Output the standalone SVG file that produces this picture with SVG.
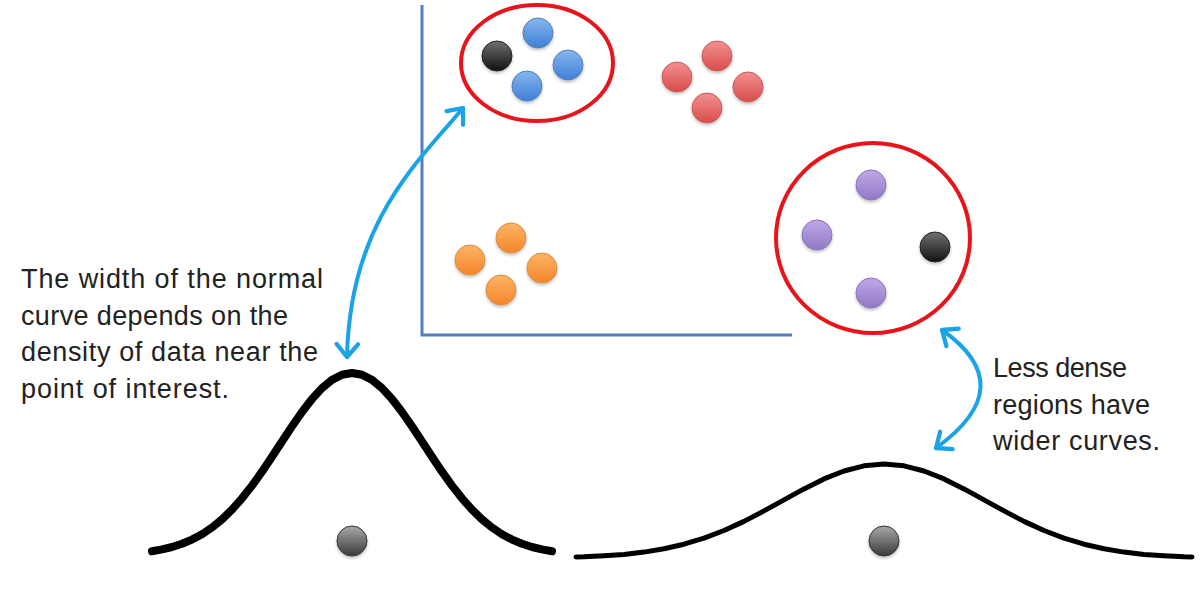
<svg xmlns="http://www.w3.org/2000/svg" width="1201" height="597" viewBox="0 0 1201 597">
<defs>
<linearGradient id="gBlue" x1="0" y1="0" x2="0" y2="1"><stop offset="0" stop-color="#86b6ee"/><stop offset="1" stop-color="#3f7fd6"/></linearGradient>
<linearGradient id="gRed" x1="0" y1="0" x2="0" y2="1"><stop offset="0" stop-color="#f49090"/><stop offset="1" stop-color="#d94c4c"/></linearGradient>
<linearGradient id="gOrange" x1="0" y1="0" x2="0" y2="1"><stop offset="0" stop-color="#ffb466"/><stop offset="1" stop-color="#f2862a"/></linearGradient>
<linearGradient id="gPurple" x1="0" y1="0" x2="0" y2="1"><stop offset="0" stop-color="#bea8e6"/><stop offset="1" stop-color="#9278c6"/></linearGradient>
<linearGradient id="gBlack" x1="0" y1="0" x2="0" y2="1"><stop offset="0" stop-color="#707070"/><stop offset="1" stop-color="#111111"/></linearGradient>
<linearGradient id="gGray" x1="0" y1="0" x2="0" y2="1"><stop offset="0" stop-color="#a8a8a8"/><stop offset="1" stop-color="#3a3a3a"/></linearGradient>
<filter id="sh" x="-30%" y="-30%" width="160%" height="170%"><feDropShadow dx="0" dy="2" stdDeviation="1.5" flood-color="#000" flood-opacity="0.25"/></filter>
<marker id="chev" markerUnits="userSpaceOnUse" markerWidth="30" markerHeight="30" viewBox="-16 -14 20 28" refX="0" refY="0" orient="auto-start-reverse">
<path d="M-12,-10 L0,0 L-12,10" fill="none" stroke="#1aa3e6" stroke-width="4" stroke-linecap="round" stroke-linejoin="round"/>
</marker>
<style>
.dot{stroke-width:1;filter:url(#sh)}
.blue{fill:url(#gBlue);stroke:#4f7fbf}
.red{fill:url(#gRed);stroke:#c85a5a}
.orange{fill:url(#gOrange);stroke:#e08a3a}
.purple{fill:url(#gPurple);stroke:#8a74b8}
.black{fill:url(#gBlack);stroke:#222}
.gray{fill:url(#gGray);stroke:#333}
.ring{fill:none;stroke:#e8141c;stroke-width:4}
.axis{fill:none;stroke:#4f7fc0;stroke-width:3}
.conn{fill:none;stroke:#1aa3e6;stroke-width:4;stroke-linecap:round}
.bell{fill:none;stroke:#000;stroke-linecap:round;stroke-linejoin:round}
.txt{font-family:"Liberation Sans",Arial,sans-serif;font-size:27px;fill:#222}
</style>
</defs>
<rect width="1201" height="597" fill="#fff"/>

<g id="axes">
<polyline class="axis" points="422,5 422,335 792,335"/>
</g>

<g id="cluster-blue">
<ellipse class="ring" cx="537" cy="63" rx="76" ry="58"/>
<circle class="dot black" cx="497" cy="56" r="15"/>
<circle class="dot blue" cx="538" cy="33" r="15"/>
<circle class="dot blue" cx="568" cy="65" r="15"/>
<circle class="dot blue" cx="527" cy="86" r="15"/>
</g>

<g id="cluster-red">
<circle class="dot red" cx="717" cy="56" r="15"/>
<circle class="dot red" cx="677" cy="77" r="15"/>
<circle class="dot red" cx="748" cy="87" r="15"/>
<circle class="dot red" cx="707" cy="108" r="15"/>
</g>

<g id="cluster-orange">
<circle class="dot orange" cx="511" cy="238" r="15"/>
<circle class="dot orange" cx="470" cy="260" r="15"/>
<circle class="dot orange" cx="542" cy="268" r="15"/>
<circle class="dot orange" cx="501" cy="290" r="15"/>
</g>

<g id="cluster-purple">
<ellipse class="ring" cx="873" cy="238" rx="97" ry="95"/>
<circle class="dot purple" cx="871" cy="185" r="15"/>
<circle class="dot purple" cx="817" cy="235" r="15"/>
<circle class="dot purple" cx="871" cy="293" r="15"/>
<circle class="dot black" cx="935" cy="247" r="15"/>
</g>

<g id="bell-narrow">
<polyline class="bell" stroke-width="8" points="152,551.2 162,549.4 172,547 182,543.8 192,539.6 202,534.2 212,527.5 222,519.3 232,509.6 242,498.3 252,485.6 262,471.7 272,456.8 282,441.5 292,426.4 302,412 312,399 322,388.1 332,379.9 342,374.8 352,373 362,374.8 372,379.9 382,388.1 392,399 402,412 412,426.4 422,441.5 432,456.8 442,471.7 452,485.6 462,498.3 472,509.6 482,519.3 492,527.5 502,534.2 512,539.6 522,543.8 532,547 542,549.4 552,551.2"/>
<circle class="dot gray" cx="352" cy="541" r="15"/>
</g>

<g id="bell-wide">
<polyline class="bell" stroke-width="5" points="576,557 584,556.8 604,555.8 624,554.4 644,552.1 664,548.8 684,544.2 704,538.2 724,530.5 744,521.4 764,510.9 784,499.9 804,488.9 824,478.9 844,471 864,465.8 884,464 904,465.8 924,471 944,478.9 964,488.9 984,499.9 1004,510.9 1024,521.4 1044,530.5 1064,538.2 1084,544.2 1104,548.8 1124,552.1 1144,554.4 1164,555.8 1184,556.8 1192,557"/>
<circle class="dot gray" cx="884" cy="541" r="15"/>
</g>

<g id="label-left">
<text class="txt" x="21" y="288" textLength="302" lengthAdjust="spacing">The width of the normal</text>
<text class="txt" x="21" y="324.5" textLength="267" lengthAdjust="spacing">curve depends on the</text>
<text class="txt" x="21" y="361" textLength="297" lengthAdjust="spacing">density of data near the</text>
<text class="txt" x="21" y="397.5" textLength="208" lengthAdjust="spacing">point of interest.</text>
</g>

<g id="label-right">
<text class="txt" x="993" y="377" textLength="134" lengthAdjust="spacing">Less dense</text>
<text class="txt" x="993" y="413.5" textLength="157" lengthAdjust="spacing">regions have</text>
<text class="txt" x="993" y="450" textLength="167" lengthAdjust="spacing">wider curves.</text>
</g>

<g id="connectors">
<path class="conn" d="M463,108 C420,160 350,220 347,357" marker-start="url(#chev)" marker-end="url(#chev)"/>
<path class="conn" d="M942,330 Q1022,386 936,448" marker-start="url(#chev)" marker-end="url(#chev)"/>
</g>
</svg>
